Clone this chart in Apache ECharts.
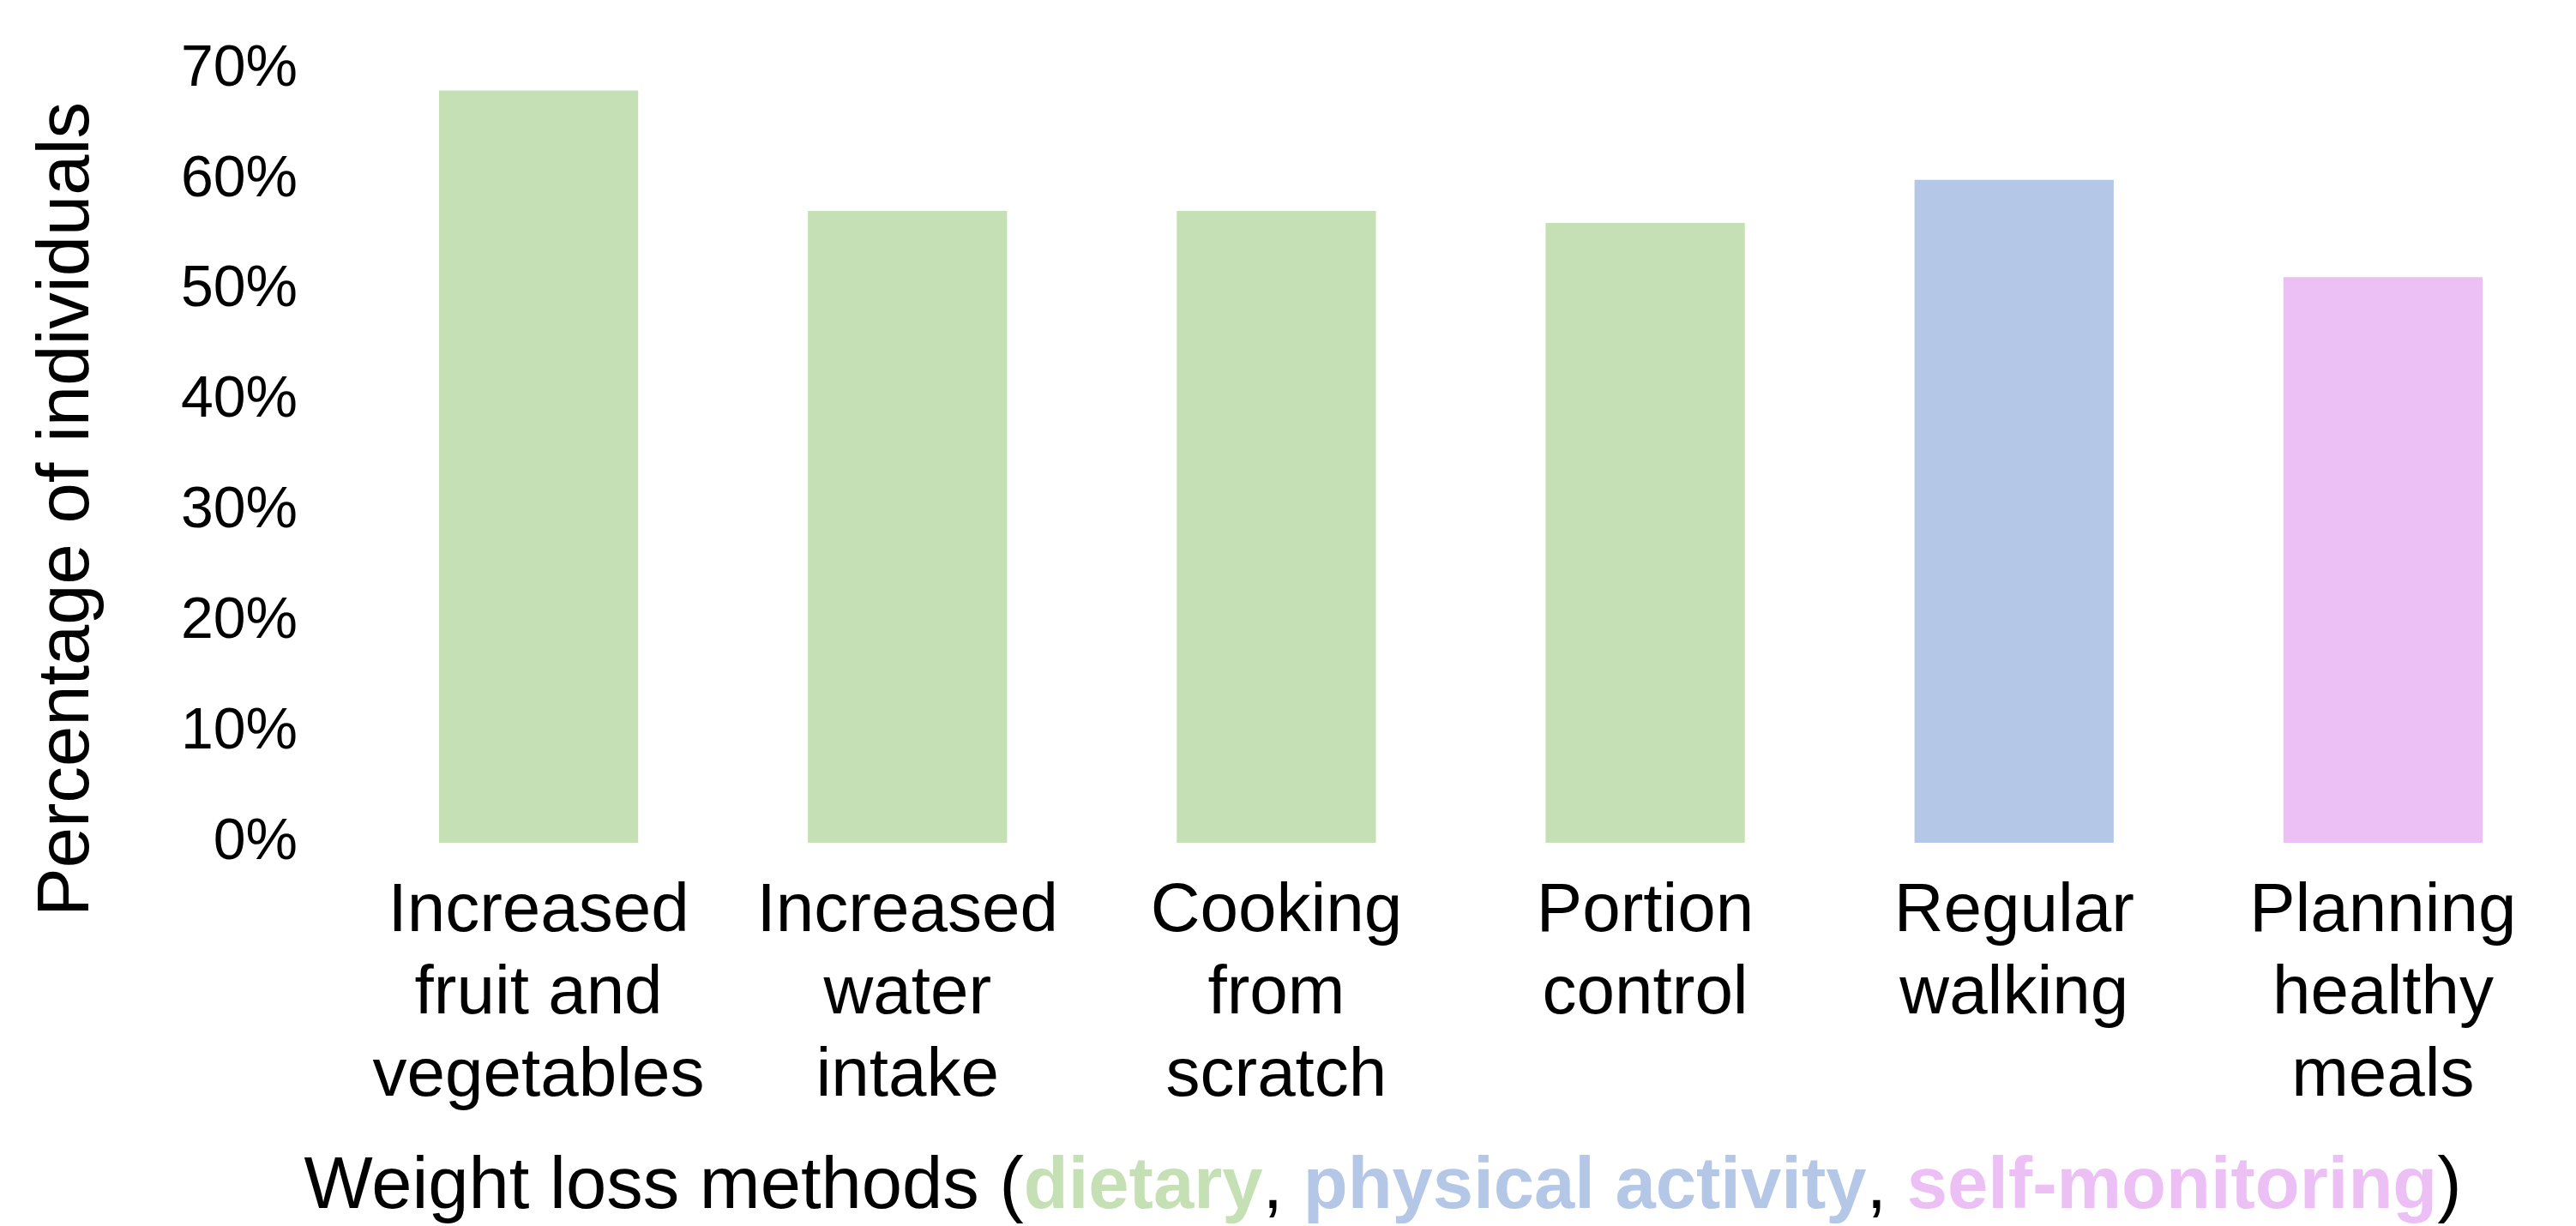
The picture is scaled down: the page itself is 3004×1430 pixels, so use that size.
<!DOCTYPE html>
<html>
<head>
<meta charset="utf-8">
<script src="https://cdn.jsdelivr.net/npm/echarts@6/dist/echarts.min.js"></script>
<style>
  html, body { margin: 0; padding: 0; background: #ffffff; overflow: hidden; }
  #chart { width: 3004px; height: 1430px; }
</style>
</head>
<body>
<div id="chart"></div>
<script>
// ---- data ----
var categories = [
  'Increased\nfruit and\nvegetables',
  'Increased\nwater\nintake',
  'Cooking\nfrom\nscratch',
  'Portion\ncontrol',
  'Regular\nwalking',
  'Planning\nhealthy\nmeals'
];
var values = [68.1, 57.2, 57.2, 56.1, 60.0, 51.2];
var groups = ['dietary', 'dietary', 'dietary', 'dietary', 'physical', 'selfmon'];
var yTicks = { min: 0, max: 70, step: 10 };
var groupColors = { dietary: '#C5E0B4', physical: '#B4C7E7', selfmon: '#ECC0F4' };

var FONT = '"Liberation Sans", Arial, Helvetica, sans-serif';

var chart = echarts.init(document.getElementById('chart'), null, { renderer: 'canvas' });

var seriesData = values.map(function (v, i) {
  return { value: v, itemStyle: { color: groupColors[groups[i]] } };
});

chart.setOption({
  backgroundColor: '#ffffff',
  animation: false,
  grid: { left: 413, right: 10, top: 81, bottom: 447, containLabel: false, outerBoundsMode: 'none' },
  xAxis: {
    type: 'category',
    data: categories,
    axisLine: { show: false },
    axisTick: { show: false },
    splitLine: { show: false },
    axisLabel: {
      interval: 0,
      margin: 33,
      color: '#000000',
      fontFamily: FONT,
      fontSize: 80,
      lineHeight: 96
    },
    name: '{n|Weight loss methods (}{d|dietary}{n|, }{p|physical activity}{n|, }{s|self-monitoring}{n|)}',
    nameLocation: 'middle',
    nameGap: 355,
    nameTextStyle: {
      fontFamily: FONT,
      fontSize: 85,
      lineHeight: 96,
      padding: [0, 182, 0, 0],
      rich: {
        n: { fontFamily: FONT, fontSize: 85, lineHeight: 96, color: '#000000' },
        d: { fontFamily: FONT, fontSize: 85, lineHeight: 96, fontWeight: 'bold', color: groupColors.dietary },
        p: { fontFamily: FONT, fontSize: 85, lineHeight: 96, fontWeight: 'bold', color: groupColors.physical },
        s: { fontFamily: FONT, fontSize: 85, lineHeight: 96, fontWeight: 'bold', color: groupColors.selfmon }
      }
    }
  },
  yAxis: {
    type: 'value',
    min: yTicks.min,
    max: yTicks.max,
    interval: yTicks.step,
    axisLine: { show: false },
    axisTick: { show: false },
    splitLine: { show: false },
    axisLabel: {
      formatter: '{value}%',
      margin: 66,
      color: '#000000',
      fontFamily: FONT,
      fontSize: 68
    },
    name: 'Percentage of individuals',
    nameLocation: 'middle',
    nameGap: 285,
    nameTextStyle: {
      color: '#000000',
      fontFamily: FONT,
      fontSize: 85,
      lineHeight: 96,
      padding: [0, 124, 0, 0]
    }
  },
  series: [{
    type: 'bar',
    data: seriesData,
    barWidth: '54%'
  }]
});
</script>
</body>
</html>
